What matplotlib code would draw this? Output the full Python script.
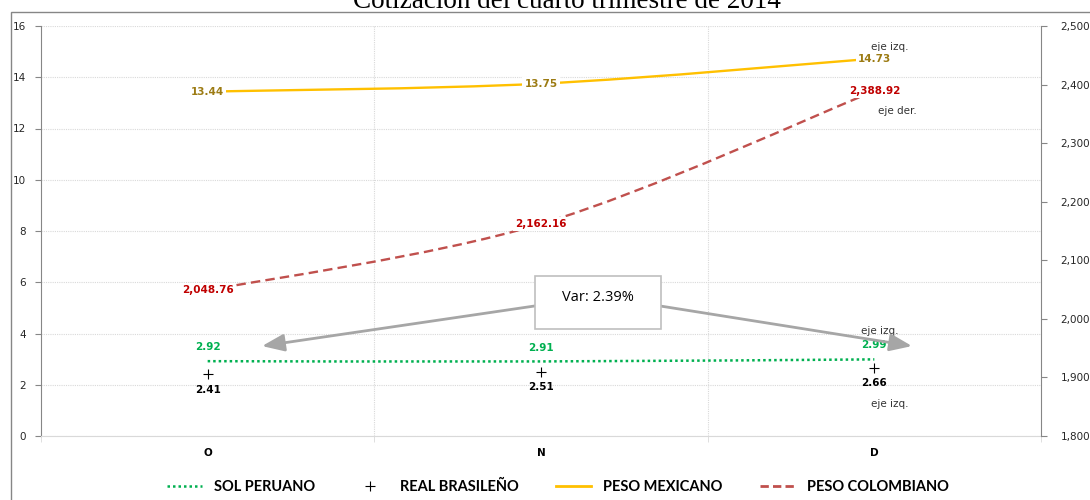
import matplotlib
matplotlib.use("Agg")
import matplotlib.pyplot as plt
from matplotlib.path import Path
from matplotlib.patches import PathPatch, Rectangle
from matplotlib.lines import Line2D
from matplotlib.ticker import FuncFormatter, FixedLocator

meses = ["O", "N", "D"]
sol_peruano = [2.92, 2.91, 2.99]
real_brasileno = [2.41, 2.51, 2.66]
peso_mexicano = [13.44, 13.75, 14.73]
peso_colombiano = [2048.76, 2162.16, 2388.92]
etiquetas_col = ["2,048.76", "2,162.16", "2,388.92"]
variacion = "Var: 2.39%"


def smooth(xs, ys):
    # bezier rendering of the series (same idea as excel "smoothed line")
    verts = [(xs[0], ys[0])]
    codes = [Path.MOVETO]
    n = len(xs)
    for i in range(n - 1):
        a = i - 1 if i > 0 else i
        b = i + 2 if i + 2 < n else i + 1
        c1 = (xs[i] + (xs[i + 1] - xs[a]) / 6, ys[i] + (ys[i + 1] - ys[a]) / 6)
        c2 = (xs[i + 1] - (xs[b] - xs[i]) / 6, ys[i + 1] - (ys[b] - ys[i]) / 6)
        verts += [c1, c2, (xs[i + 1], ys[i + 1])]
        codes += [Path.CURVE4] * 3
    return Path(verts, codes)


W, H = 1090, 500
fig = plt.figure(figsize=(W / 100, H / 100), dpi=100)
fig.patches.append(Rectangle((11 / W, -0.1), 1.2, 1 - 12 / H + 0.1, transform=fig.transFigure,
                             fill=False, edgecolor="#868686", lw=1))

ax = fig.add_axes([41 / W, 64 / H, 1000 / W, 410 / H])
ax2 = ax.twinx()
x = list(range(len(meses)))

ax.set_xlim(-0.5, 2.5)
ax.set_ylim(0, 16)
ax2.set_ylim(1800, 2500)

# grid
ax.set_yticks(range(0, 17, 2))
ax.grid(axis="y", color="#D9D9D9", ls=(0, (1, 1)), lw=0.8)
for xv in [0.5, 1.5]:
    ax.axvline(xv, color="#D9D9D9", ls=(0, (1, 1)), lw=0.8, zorder=0)

# spines / ticks
for a in (ax, ax2):
    a.spines["top"].set_visible(False)
ax.spines["left"].set_color("#868686")
ax2.spines["right"].set_color("#868686")
ax.spines["bottom"].set_color("#D9D9D9")
ax2.spines["bottom"].set_visible(False)
ax2.spines["left"].set_visible(False)
ax.spines["right"].set_visible(False)
ax.tick_params(axis="y", length=4, color="#868686", labelsize=7.5, labelcolor="#262626", pad=7)
ax2.tick_params(axis="y", length=4, color="#868686", labelsize=7.5, labelcolor="#262626", pad=10)
ax2.yaxis.set_major_formatter(FuncFormatter(lambda v, p: "{:,.0f}".format(v)))
ax.set_xticks(x)
ax.set_xticklabels(meses, fontweight="bold", fontsize=7.5)
ax.tick_params(axis="x", which="major", length=0, pad=9)
ax.xaxis.set_minor_locator(FixedLocator([-0.5, 0.5, 1.5, 2.5]))
ax.tick_params(axis="x", which="minor", length=4, color="#D9D9D9")

# series
ax.add_patch(PathPatch(smooth(x, peso_mexicano), fill=False, edgecolor="#FFC000", lw=1.7, zorder=2))
ax.add_patch(PathPatch(smooth(x, sol_peruano), fill=False, edgecolor="#00B050", lw=1.8,
                       ls=(0, (1, 1.2)), zorder=2))
ax.plot(x, real_brasileno, ls="none", marker="+", ms=7, mew=0.8, color="black", zorder=3)
ax2.add_patch(PathPatch(smooth(x, peso_colombiano), fill=False, edgecolor="#C0504D", lw=1.7,
                        ls=(0, (4, 2.2)), zorder=2))

lab = dict(fontsize=7.5, fontweight="bold", ha="center", va="center")
box = dict(facecolor="white", edgecolor="none", pad=1.5)
for i in x:
    ax.text(i, peso_mexicano[i], "{:.2f}".format(peso_mexicano[i]), color="#9C7B13", bbox=box, zorder=4, **lab)
    ax2.text(i, peso_colombiano[i], etiquetas_col[i], color="#C00000", bbox=box, zorder=4, **lab)
    ax.annotate("{:.2f}".format(sol_peruano[i]), (i, sol_peruano[i]), xytext=(0, 10),
                textcoords="offset points", color="#00B050", **lab)
    ax.annotate("{:.2f}".format(real_brasileno[i]), (i, real_brasileno[i]), xytext=(0, -11),
                textcoords="offset points", color="black", **lab)

nota = dict(fontsize=7.5, color="#333333", ha="center", va="center")
ax.text(2.045, 15.2, "eje izq.", **nota)
ax2.text(2.07, 2355, "eje der.", **nota)
ax.text(2.015, 4.1, "eje izq.", **nota)
ax.text(2.045, 1.25, "eje izq.", **nota)

# variation box with arrows
arrow = dict(arrowstyle="-|>,head_length=0.9,head_width=0.35", color="#A6A6A6", lw=2,
             mutation_scale=15, shrinkA=0, shrinkB=0)
ax2.annotate("", xy=(0.163, 3.51), xytext=(1.0, 5.11), xycoords=ax.transData,
             textcoords=ax.transData, arrowprops=arrow)
ax2.annotate("", xy=(2.113, 3.51), xytext=(1.34, 5.11), xycoords=ax.transData,
             textcoords=ax.transData, arrowprops=arrow)
ax2.add_patch(Rectangle((0.982, 4.18), 0.378, 2.07, transform=ax.transData, facecolor="white",
                        edgecolor="#BFBFBF", lw=1.2, zorder=5))
ax2.text(1.171, 5.4, variacion, transform=ax.transData, fontsize=10.5, family="Open Sans",
         ha="center", va="center", zorder=6)

fig.text(567 / W, 1 - 8 / H, "Cotización del cuarto trimestre de 2014", family="Liberation Serif",
         fontsize=19.5, ha="center", va="baseline")

handles = [
    Line2D([], [], color="#00B050", lw=1.8, ls=(0, (1, 1.2))),
    Line2D([], [], color="black", ls="none", marker="+", ms=7, mew=0.8),
    Line2D([], [], color="#FFC000", lw=2),
    Line2D([], [], color="#C0504D", lw=2, ls=(0, (3, 1.5))),
]
labels = ["SOL PERUANO", "REAL BRASILEÑO", "PESO MEXICANO", "PESO COLOMBIANO"]
fig.legend(handles, labels, ncol=4, loc="center", bbox_to_anchor=(558 / W, 13 / H), frameon=False,
           prop=dict(family="Lato", weight="bold", size=10.5), handlelength=2.4, columnspacing=2.6,
           handletextpad=0.8)

fig.savefig("out.png", dpi=100)
